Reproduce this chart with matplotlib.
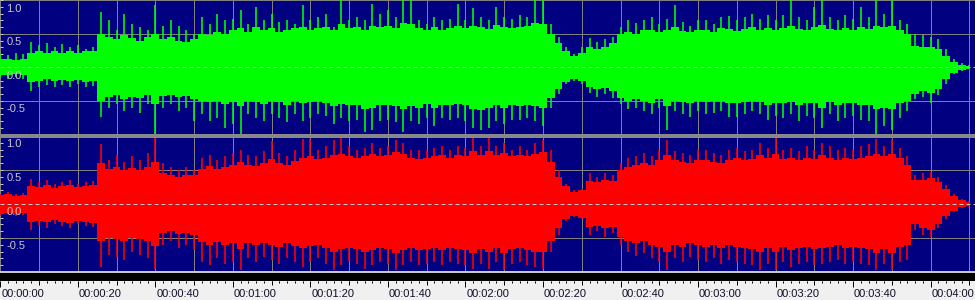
import numpy as np
import matplotlib
matplotlib.use("Agg")
import matplotlib.pyplot as plt
from matplotlib.patches import Rectangle

# ---------------- data ----------------
# envelopes sampled every 2 s (0 .. 250 s)
peak_t = np.arange(0, 251, 2)

# spike peaks
green_hi = [
    0.20, 0.18, 0.22, 0.20, 0.38, 0.33, 0.36, 0.30, 0.35, 0.30,
    0.33, 0.28, 0.30, 0.83, 0.70, 0.55, 0.80, 0.65, 0.60, 0.55,
    0.93, 0.62, 0.70, 0.62, 0.55, 0.50, 0.75, 0.65, 0.80, 0.70,
    0.72, 0.85, 0.65, 0.90, 0.70, 0.80, 0.68, 0.70, 0.65, 0.93,
    0.70, 0.75, 0.80, 0.60, 1.00, 0.70, 0.75, 0.70, 0.95, 0.80,
    0.85, 0.75, 1.00, 1.00, 0.70, 0.65, 0.75, 0.70, 0.72, 0.95,
    0.70, 0.88, 0.75, 0.70, 0.90, 0.75, 0.72, 0.78, 0.75, 1.00,
    1.00, 0.65, 0.45, 0.30, 0.20, 0.30, 0.43, 0.38, 0.42, 0.45,
    0.60, 0.70, 0.66, 0.70, 0.75, 0.65, 0.72, 0.93, 0.68, 0.62,
    0.70, 0.70, 0.65, 0.75, 0.76, 0.70, 0.75, 0.80, 0.72, 0.78,
    0.70, 0.78, 1.00, 0.75, 0.70, 0.90, 1.00, 0.75, 0.70, 0.78,
    0.72, 0.90, 0.75, 1.00, 0.80, 1.00, 0.70, 0.65, 0.50, 0.48,
    0.45, 0.42, 0.28, 0.12, 0.06, 0.03]
green_lo = [
    -0.16, -0.18, -0.15, -0.17, -0.36, -0.30, -0.26, -0.30, -0.27, -0.30,
    -0.25, -0.30, -0.28, -0.74, -0.60, -0.55, -0.65, -0.60, -0.68, -0.55,
    -0.99, -0.60, -0.55, -0.65, -0.60, -0.80, -0.70, -0.80, -0.75, -0.90,
    -0.85, -0.99, -0.70, -0.75, -0.80, -0.70, -0.75, -0.82, -0.70, -0.80,
    -0.75, -0.70, -0.72, -0.85, -0.75, -0.80, -0.78, -0.96, -0.93, -0.80,
    -0.78, -0.82, -0.96, -0.80, -0.85, -0.75, -0.87, -0.75, -0.78, -0.75,
    -0.80, -0.90, -0.93, -0.90, -0.80, -0.84, -0.78, -0.79, -0.75, -0.80,
    -0.88, -0.60, -0.40, -0.25, -0.20, -0.25, -0.38, -0.44, -0.40, -0.46,
    -0.55, -0.62, -0.60, -0.65, -0.70, -0.60, -0.94, -0.65, -0.70, -0.74,
    -0.65, -0.70, -0.68, -0.65, -0.74, -0.74, -0.70, -0.65, -0.70, -0.79,
    -0.72, -0.75, -0.70, -0.80, -0.72, -0.75, -0.91, -0.70, -0.80, -0.75,
    -0.72, -0.78, -0.80, -0.99, -0.88, -0.94, -0.75, -0.65, -0.48, -0.45,
    -0.54, -0.42, -0.25, -0.10, -0.05, -0.02]
red_hi = [
    0.15, 0.17, 0.14, 0.16, 0.37, 0.32, 0.35, 0.30, 0.33, 0.35,
    0.30, 0.32, 0.34, 0.88, 0.65, 0.72, 0.62, 0.70, 0.65, 0.75,
    0.97, 0.60, 0.55, 0.50, 0.55, 0.50, 0.68, 0.72, 0.65, 0.70,
    0.75, 0.80, 0.72, 0.70, 0.78, 0.92, 0.75, 0.70, 0.80, 0.96,
    0.96, 0.80, 0.85, 0.94, 0.97, 0.85, 0.80, 0.82, 0.89, 0.82,
    0.85, 0.94, 0.90, 0.80, 0.79, 0.80, 0.82, 0.85, 0.80, 0.85,
    0.82, 0.97, 0.85, 0.97, 0.85, 0.89, 0.80, 0.85, 0.80, 0.89,
    0.94, 0.80, 0.50, 0.30, 0.20, 0.22, 0.45, 0.40, 0.45, 0.42,
    0.60, 0.68, 0.70, 0.75, 0.70, 0.80, 0.94, 0.78, 0.75, 0.72,
    0.80, 0.79, 0.75, 0.72, 0.80, 0.82, 0.78, 0.80, 0.89, 0.82,
    0.99, 0.80, 0.82, 0.78, 0.85, 0.80, 0.89, 0.85, 0.80, 0.82,
    0.80, 0.85, 0.88, 0.96, 0.85, 0.96, 0.82, 0.70, 0.42, 0.45,
    0.47, 0.40, 0.28, 0.15, 0.08, 0.04]
red_lo = [
    -0.17, -0.15, -0.18, -0.16, -0.38, -0.33, -0.35, -0.30, -0.33, -0.36,
    -0.30, -0.33, -0.34, -0.92, -0.75, -0.78, -0.82, -0.70, -0.75, -0.80,
    -0.95, -0.60, -0.55, -0.65, -0.60, -0.66, -0.85, -0.90, -0.80, -0.88,
    -0.85, -0.97, -0.80, -0.85, -0.78, -0.82, -0.88, -0.80, -0.85, -0.92,
    -0.85, -0.80, -0.88, -0.97, -0.90, -0.85, -0.88, -0.95, -0.90, -0.85,
    -0.88, -0.97, -0.90, -0.85, -0.90, -0.88, -0.85, -0.90, -0.85, -0.88,
    -0.90, -0.96, -0.88, -0.95, -0.85, -0.97, -0.88, -0.85, -0.90, -0.92,
    -0.95, -0.70, -0.45, -0.25, -0.19, -0.22, -0.45, -0.40, -0.48, -0.42,
    -0.60, -0.70, -0.77, -0.72, -0.80, -0.85, -0.97, -0.80, -0.85, -0.78,
    -0.82, -0.85, -0.80, -0.88, -0.82, -0.85, -0.88, -0.90, -0.97, -0.88,
    -0.97, -0.85, -0.92, -0.88, -0.85, -0.90, -0.88, -0.85, -0.82, -0.88,
    -0.85, -0.88, -0.90, -0.97, -0.88, -0.97, -0.85, -0.82, -0.38, -0.45,
    -0.48, -0.35, -0.22, -0.12, -0.06, -0.04]

# dense "body" of each channel
green_body_hi = [
    0.12, 0.13, 0.11, 0.12, 0.22, 0.24, 0.22, 0.25, 0.21, 0.24,
    0.22, 0.25, 0.24, 0.50, 0.45, 0.42, 0.48, 0.44, 0.40, 0.45,
    0.50, 0.42, 0.45, 0.40, 0.38, 0.42, 0.50, 0.48, 0.52, 0.50,
    0.55, 0.58, 0.52, 0.60, 0.55, 0.58, 0.52, 0.55, 0.58, 0.60,
    0.55, 0.58, 0.60, 0.55, 0.65, 0.58, 0.60, 0.56, 0.62, 0.60,
    0.62, 0.58, 0.66, 0.65, 0.58, 0.55, 0.60, 0.56, 0.58, 0.62,
    0.58, 0.62, 0.60, 0.57, 0.63, 0.60, 0.58, 0.60, 0.62, 0.66,
    0.64, 0.50, 0.36, 0.24, 0.17, 0.22, 0.30, 0.28, 0.30, 0.36,
    0.50, 0.53, 0.50, 0.55, 0.56, 0.52, 0.55, 0.60, 0.54, 0.52,
    0.55, 0.56, 0.52, 0.58, 0.57, 0.54, 0.57, 0.60, 0.55, 0.58,
    0.55, 0.58, 0.62, 0.57, 0.55, 0.60, 0.63, 0.57, 0.55, 0.58,
    0.56, 0.60, 0.57, 0.62, 0.60, 0.62, 0.56, 0.50, 0.32, 0.30,
    0.30, 0.27, 0.17, 0.08, 0.04, 0.02]
green_body_lo = [
    -0.11, -0.12, -0.10, -0.12, -0.22, -0.20, -0.18, -0.21, -0.19, -0.21,
    -0.19, -0.22, -0.21, -0.50, -0.44, -0.42, -0.47, -0.44, -0.46, -0.42,
    -0.55, -0.43, -0.42, -0.45, -0.43, -0.48, -0.50, -0.52, -0.50, -0.55,
    -0.52, -0.58, -0.50, -0.52, -0.55, -0.50, -0.52, -0.56, -0.50, -0.54,
    -0.52, -0.50, -0.53, -0.58, -0.55, -0.57, -0.56, -0.62, -0.60, -0.57,
    -0.56, -0.58, -0.62, -0.58, -0.60, -0.55, -0.60, -0.56, -0.57, -0.55,
    -0.57, -0.62, -0.63, -0.60, -0.57, -0.60, -0.56, -0.58, -0.56, -0.58,
    -0.60, -0.46, -0.32, -0.22, -0.18, -0.21, -0.30, -0.33, -0.31, -0.36,
    -0.46, -0.50, -0.48, -0.50, -0.53, -0.48, -0.58, -0.50, -0.52, -0.54,
    -0.50, -0.52, -0.51, -0.50, -0.54, -0.54, -0.52, -0.50, -0.52, -0.56,
    -0.53, -0.54, -0.52, -0.56, -0.53, -0.54, -0.60, -0.52, -0.56, -0.54,
    -0.53, -0.56, -0.57, -0.62, -0.60, -0.62, -0.54, -0.50, -0.40, -0.36,
    -0.38, -0.32, -0.18, -0.08, -0.04, -0.02]
red_body_hi = [
    0.13, 0.14, 0.12, 0.13, 0.27, 0.25, 0.28, 0.24, 0.26, 0.28,
    0.25, 0.27, 0.28, 0.60, 0.52, 0.55, 0.50, 0.53, 0.50, 0.55,
    0.62, 0.45, 0.42, 0.40, 0.42, 0.42, 0.52, 0.56, 0.52, 0.55,
    0.58, 0.62, 0.58, 0.56, 0.60, 0.66, 0.60, 0.58, 0.63, 0.68,
    0.70, 0.66, 0.68, 0.72, 0.74, 0.70, 0.68, 0.70, 0.74, 0.70,
    0.72, 0.76, 0.74, 0.68, 0.66, 0.68, 0.70, 0.72, 0.68, 0.72,
    0.70, 0.78, 0.72, 0.78, 0.72, 0.75, 0.70, 0.72, 0.70, 0.74,
    0.76, 0.62, 0.40, 0.26, 0.18, 0.20, 0.34, 0.32, 0.35, 0.34,
    0.50, 0.55, 0.58, 0.60, 0.58, 0.64, 0.72, 0.64, 0.62, 0.60,
    0.65, 0.64, 0.62, 0.60, 0.65, 0.68, 0.64, 0.66, 0.72, 0.68,
    0.74, 0.66, 0.68, 0.64, 0.68, 0.66, 0.72, 0.68, 0.65, 0.67,
    0.66, 0.68, 0.70, 0.74, 0.70, 0.74, 0.68, 0.58, 0.36, 0.36,
    0.38, 0.32, 0.22, 0.12, 0.06, 0.03]
red_body_lo = [
    -0.14, -0.13, -0.15, -0.13, -0.27, -0.25, -0.27, -0.24, -0.26, -0.28,
    -0.25, -0.27, -0.28, -0.55, -0.50, -0.52, -0.55, -0.50, -0.52, -0.55,
    -0.62, -0.42, -0.40, -0.44, -0.42, -0.46, -0.56, -0.60, -0.56, -0.60,
    -0.58, -0.66, -0.58, -0.60, -0.57, -0.60, -0.63, -0.58, -0.62, -0.65,
    -0.62, -0.60, -0.64, -0.70, -0.66, -0.64, -0.66, -0.70, -0.68, -0.64,
    -0.66, -0.72, -0.68, -0.64, -0.68, -0.66, -0.64, -0.68, -0.64, -0.66,
    -0.68, -0.72, -0.66, -0.70, -0.64, -0.72, -0.66, -0.64, -0.68, -0.70,
    -0.70, -0.55, -0.36, -0.22, -0.18, -0.20, -0.34, -0.32, -0.36, -0.34,
    -0.48, -0.54, -0.58, -0.55, -0.60, -0.63, -0.70, -0.60, -0.63, -0.58,
    -0.61, -0.63, -0.60, -0.65, -0.61, -0.63, -0.65, -0.66, -0.70, -0.65,
    -0.70, -0.63, -0.68, -0.65, -0.63, -0.66, -0.65, -0.63, -0.61, -0.65,
    -0.63, -0.65, -0.66, -0.72, -0.66, -0.72, -0.63, -0.60, -0.30, -0.36,
    -0.38, -0.30, -0.18, -0.10, -0.05, -0.03]

amp_labels = ["1.0", "0.5", "0.0", "-0.5"]
amp_label_vals = [1.0, 0.5, 0.0, -0.5]
time_label_t = [0, 20, 40, 60, 80, 100, 120, 140, 160, 180, 200, 220, 240]
time_labels = ["00:00:00", "00:00:20", "00:00:40", "00:01:00", "00:01:20",
               "00:01:40", "00:02:00", "00:02:20", "00:02:40", "00:03:00",
               "00:03:20", "00:03:40", "00:04:00"]

# ---------------- styling ----------------
W, H = 975, 300
NAVY = "#000080"
GRID = "#808080"
LBL = "#c8c8c8"
XLIM = (-0.06, 251.43)
PX = 0.72  # one pixel in points at dpi 100

plt.rcParams["font.family"] = ["Liberation Sans", "DejaVu Sans"]

fig = plt.figure(figsize=(W / 100, H / 100), dpi=100)
fig.patch.set_facecolor("#f0f0f0")


def add_px_axes(top, bottom):
    return fig.add_axes([0, 1 - bottom / H, 1, (bottom - top) / H])


def channel(ax, color, hi, lo, bhi, blo, ylim):
    ax.set_facecolor(NAVY)
    ax.set_xlim(*XLIM)
    ax.set_ylim(*ylim)
    for s in ax.spines.values():
        s.set_visible(False)
    ax.set_xticks(np.arange(0, 251, 10))
    ax.set_yticks([-0.5, 0.5, 1.0])
    ax.set_yticks(np.arange(-0.9, 1.0, 0.1), minor=True)
    ax.set_axisbelow(True)
    ax.grid(True, which="major", color=GRID, lw=PX)
    ax.tick_params(axis="x", length=0, labelbottom=False)
    ax.tick_params(axis="y", which="both", direction="in", length=2.2,
                   width=PX, color=LBL, labelleft=False, pad=0)
    ax.fill_between(peak_t, blo, bhi, step="mid", color=color, lw=0,
                    zorder=2)
    ax.vlines(peak_t, lo, hi, colors=color, lw=1.6 * PX, zorder=2)
    ax.axhline(0, color=LBL, lw=PX, dashes=(4, 3), zorder=3)
    for v, s in zip(amp_label_vals, amp_labels):
        ax.annotate(s, xy=(0, v), xycoords=("axes fraction", "data"),
                    xytext=(6.5 * PX, -3.3 * PX), textcoords="offset points",
                    ha="left", va="top", fontsize=8, color=LBL, zorder=4)


ax_g = add_px_axes(0, 134)
channel(ax_g, "#00ff00", green_hi, green_lo, green_body_hi, green_body_lo,
        (-0.9955, 1.0045))

ax_r = add_px_axes(136, 271)
channel(ax_r, "#ff0000", red_hi, red_lo, red_body_hi, red_body_lo,
        (-0.985, 1.0))

# separator between the channels, light line + black bar under the waveform
for top, bot, col in [(133.5, 137.6, "#888888"), (270.8, 272.6, "#c8c8c8"),
                      (272.6, 281.2, "#000000")]:
    fig.add_artist(Rectangle((0, 1 - bot / H), 1, (bot - top) / H,
                             transform=fig.transFigure, color=col, lw=0,
                             zorder=10))

# time ruler
ax_t = add_px_axes(281.2, 300)
ax_t.set_facecolor("#f0f0f0")
ax_t.set_xlim(*XLIM)
ax_t.set_ylim(0, 1)
for s in ax_t.spines.values():
    s.set_visible(False)
ax_t.set_yticks([])
ax_t.set_xticks(time_label_t)
ax_t.set_xticks(np.arange(0, 251, 2), minor=True)
ax_t.tick_params(axis="x", which="major", top=True, bottom=False,
                 direction="in", length=5.5 * PX, width=PX, color="#000000",
                 labeltop=False, labelbottom=False)
ax_t.tick_params(axis="x", which="minor", top=True, bottom=False,
                 direction="in", length=2 * PX, width=PX, color="#000000")
ax_t.vlines(np.arange(10, 251, 20), 1 - 3.5 / 18.8, 1, colors="#000000",
            lw=PX, transform=ax_t.get_xaxis_transform())
for t, s in zip(time_label_t, time_labels):
    ax_t.text(t + 0.25, 3.2 / 18.8, s, ha="left", va="baseline", fontsize=8,
              color="#10102a")

fig.savefig("out.png", dpi=100, facecolor=fig.get_facecolor())
